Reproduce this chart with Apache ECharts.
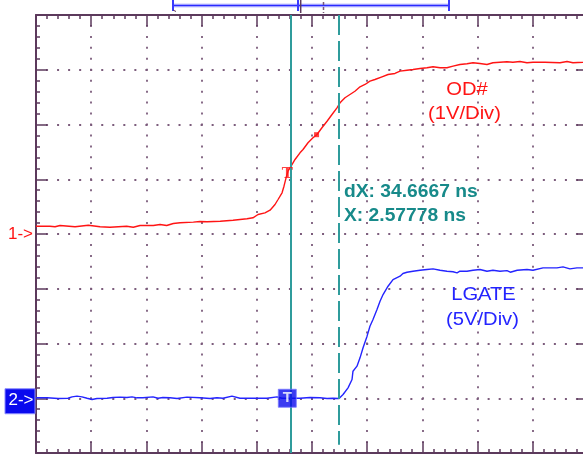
<!DOCTYPE html>
<html><head><meta charset="utf-8">
<script src="https://cdn.jsdelivr.net/npm/echarts@6/dist/echarts.min.js"></script>
<style>html,body{margin:0;padding:0;background:#fff;}#c{width:583px;height:456px;}</style>
</head><body><div id="c"></div>
<script>
// ---- time base (ns) ----
const timeMin = -182.1;
const timePerDiv = 40;
const timeDivs = 10;
const vertDivs = 8;

// ---- channel 1: OD# (1 V/div) ----
const ch1Time = [-182.1,-172.0,-168.3,-164.7,-153.8,-144.2,-135.7,-128.5,-116.4,-111.6,-106.7,-97.1,-92.2,-87.4,-82.6,-77.7,-68.1,-63.3,-58.0,-48.6,-39.3,-29.2,-24.9,-21.2,-16.2,-12.5,-8.9,-6.7,-3.8,-2.4,-0.9,0.5,3.4,5.6,9.2,11.4,15.0,18.6,21.5,25.1,28.8,32.4,36.0,38.2,41.8,45.4,49.0,52.7,56.3,59.9,63.5,68.6,73.0,78.0,81.7,86.7,91.1,96.2,101.2,105.6,110.7,115.7,120.1,125.1,130.2,134.6,139.6,144.7,149.0,154.1,159.2,163.5,168.6,173.7,178.0,186.7,197.6,202.7,207.0,214.3,217.9];
const ch1Volts = [0.142,0.142,0.132,0.155,0.132,0.161,0.132,0.124,0.142,0.124,0.155,0.155,0.174,0.155,0.192,0.205,0.216,0.228,0.223,0.234,0.252,0.278,0.296,0.356,0.387,0.435,0.539,0.630,0.753,0.873,1.026,1.147,1.269,1.361,1.483,1.543,1.666,1.757,1.817,1.940,2.060,2.183,2.305,2.396,2.488,2.548,2.608,2.689,2.731,2.791,2.822,2.871,2.913,2.932,2.974,2.992,3.005,3.023,3.036,3.054,3.036,3.036,3.065,3.096,3.109,3.127,3.114,3.096,3.127,3.138,3.145,3.138,3.151,3.127,3.138,3.138,3.127,3.151,3.127,3.138,3.145];
const ch1VoltsPerDiv = 1;
const ch1OffsetDiv = 0;

// ---- channel 2: LGATE (5 V/div) ----
const ch2Time = [-182.1,-174.1,-166.1,-158.9,-156.0,-152.4,-148.8,-145.1,-141.5,-137.9,-130.6,-126.3,-121.2,-116.2,-112.5,-108.9,-104.6,-97.3,-93.7,-90.1,-85.0,-79.9,-72.7,-63.3,-56.0,-51.0,-46.6,-40.1,-34.3,-27.0,-14.7,-7.5,-3.8,9.2,16.4,23.7,28.8,33.1,37.5,40.4,44.0,46.9,47.6,50.5,52.7,54.9,57.8,59.9,62.1,65.0,67.2,69.4,73.0,76.6,81.7,83.8,86.7,91.1,96.2,101.2,105.6,110.7,115.7,120.1,123.0,125.1,130.2,134.6,139.6,144.7,149.0,154.1,159.2,161.6,166.6,173.7,178.0,185.3,190.4,195.4,199.8,204.8,209.9,214.3,217.9];
const ch2Volts = [0.04,0.04,-0.02,0.00,0.13,0.19,0.13,0.00,-0.11,-0.02,0.00,0.07,0.10,0.07,0.13,0.04,0.04,0.13,0.00,0.07,0.04,-0.02,0.10,0.04,-0.02,0.04,0.00,0.19,0.00,0.00,0.00,0.13,0.00,0.00,0.07,0.04,-0.02,0.00,-0.02,0.34,0.95,1.71,2.47,2.93,3.69,4.61,5.67,6.58,7.19,8.11,8.86,9.47,10.23,10.84,11.15,11.39,11.51,11.60,11.69,11.76,11.82,11.69,11.60,11.55,11.45,11.60,11.60,11.69,11.76,11.60,11.69,11.60,11.66,11.51,11.69,11.76,11.69,11.91,11.91,11.91,12.00,11.82,11.91,11.91,11.93];
const ch2VoltsPerDiv = 5;
const ch2OffsetDiv = -3;

// ---- cursors / markers ----
const cursorX = 2.57778;
const cursorDX = 34.6667;
const trigTime = 0;
const ch1TrigMarkVolts = 1.10;
const ch1MarkerTime = [21.2];
const ch1MarkerVolts = [1.814];

// ---- texts ----
const ch1Label = ['OD#', '(1V/Div)'];
const ch2Label = ['LGATE', '(5V/Div)'];
const cursorText = ['dX: ' + cursorDX + ' ns', 'X: ' + cursorX + ' ns'];
const ch1Arrow = '1->';
const ch2Arrow = '2->';

const AX = '#5c3a5c', DOT = '#7c5c7c', TEAL = '#2f9c9c', TEALT = '#178a8a';
const RED = '#ff1414', BLUE = '#2424ff';

const toDiv1 = v => v / ch1VoltsPerDiv + ch1OffsetDiv;
const toDiv2 = v => v / ch2VoltsPerDiv + ch2OffsetDiv;

function xAx(pos, split) {
  return {
    type: 'value', position: pos, min: timeMin, max: timeMin + timePerDiv * timeDivs, interval: timePerDiv,
    axisLine: {show: true, onZero: false, lineStyle: {color: AX, width: 2}},
    axisTick: {show: true, inside: true, length: 11, lineStyle: {color: AX, width: 1.5}},
    minorTick: {show: true, splitNumber: 5, length: 4, lineStyle: {color: AX, width: 1.5}},
    axisLabel: {show: false},
    splitLine: {show: split, lineStyle: {color: DOT, width: 1.8, type: [2, 8.95], dashOffset: 1}},
    minorSplitLine: {show: false}
  };
}
function yAx(pos, split) {
  return {
    type: 'value', position: pos, min: -vertDivs / 2, max: vertDivs / 2, interval: 1,
    axisLine: {show: true, onZero: false, lineStyle: {color: AX, width: 2}},
    axisTick: {show: true, inside: true, length: 11, lineStyle: {color: AX, width: 1.5}},
    minorTick: {show: true, splitNumber: 5, length: 4, lineStyle: {color: AX, width: 1.5}},
    axisLabel: {show: false},
    splitLine: {show: split, lineStyle: {color: DOT, width: 1.8, type: [2, 9.04], dashOffset: 1}},
    minorSplitLine: {show: false}
  };
}

const chart = echarts.init(document.getElementById('c'), null, {renderer: 'canvas'});
chart.setOption({
  animation: false,
  backgroundColor: '#ffffff',
  grid: {left: 36, top: 15, width: 552, height: 438, show: false, containLabel: false, outerBoundsMode: 'none'},
  xAxis: [xAx('bottom', true), xAx('top', false)],
  yAxis: [yAx('left', true), yAx('right', false)],
  series: [
    {
      type: 'line', name: ch1Label[0], xAxisIndex: 0, yAxisIndex: 0,
      data: ch1Time.map((t, i) => [t, toDiv1(ch1Volts[i])]),
      symbol: 'none', showSymbol: false, z: 4,
      lineStyle: {color: RED, width: 1.4}, itemStyle: {color: RED},
      markLine: {
        silent: true, symbol: 'none', label: {show: false}, animation: false,
        data: [
          [{coord: [cursorX, 4], lineStyle: {color: TEAL, width: 2, type: 'solid'}}, {coord: [cursorX, -4]}],
          [{coord: [cursorX + cursorDX, 4], lineStyle: {color: TEAL, width: 2, type: [20, 6]}}, {coord: [cursorX + cursorDX, -3.85]}]
        ]
      }
    },
    {
      type: 'line', name: ch2Label[0], xAxisIndex: 0, yAxisIndex: 0,
      data: ch2Time.map((t, i) => [t, toDiv2(ch2Volts[i])]),
      symbol: 'none', showSymbol: false, z: 4,
      lineStyle: {color: BLUE, width: 1.4}, itemStyle: {color: BLUE}
    },
    {
      type: 'scatter', xAxisIndex: 0, yAxisIndex: 0, z: 5,
      data: ch1MarkerTime.map((t, i) => [t, toDiv1(ch1MarkerVolts[i])]),
      symbol: 'rect', symbolSize: 5, itemStyle: {color: RED}
    },
    {
      type: 'scatter', xAxisIndex: 0, yAxisIndex: 0, z: 5,
      data: [[trigTime, toDiv1(ch1TrigMarkVolts)]],
      symbol: 'rect', symbolSize: 1, itemStyle: {color: 'rgba(0,0,0,0)'},
      label: {show: true, position: 'inside', formatter: 'T', color: RED, fontFamily: 'DejaVu Serif', fontWeight: 'bold', fontSize: 15}
    },
    {
      type: 'scatter', xAxisIndex: 0, yAxisIndex: 0, z: 6,
      data: [[trigTime, toDiv2(0)]],
      symbol: 'rect', symbolSize: 18, itemStyle: {color: '#0a0aee', borderColor: '#7a7aff', borderWidth: 1},
      label: {show: true, position: 'inside', formatter: 'T', color: '#ffffff', fontFamily: 'Liberation Sans', fontWeight: 'bold', fontSize: 15}
    }
  ]
});

const g1 = chart.convertToPixel({yAxisIndex: 0}, toDiv1(0));
const g2 = chart.convertToPixel({yAxisIndex: 0}, toDiv2(0));

function txt(x, y, s, fill, font, align, sx) {
  return {type: 'text', x: x, y: y, scaleX: sx || 1, z: 20,
    style: {text: s, fill: fill, font: font, align: align, textAlign: align, verticalAlign: 'middle', textVerticalAlign: 'middle'}};
}
function ln(x1, y1, x2, y2, c, w, dash) {
  return {type: 'line', z: 20, shape: {x1: x1, y1: y1, x2: x2, y2: y2}, style: {stroke: c, lineWidth: w, lineDash: dash || null}};
}

chart.setOption({
  graphic: [
    txt(467, 89.5, ch1Label[0], RED, '18.5px "Liberation Sans"', 'center', 1.09),
    txt(464.5, 113.5, ch1Label[1], RED, '18.5px "Liberation Sans"', 'center', 1.09),
    txt(483.5, 294.5, ch2Label[0], BLUE, '18.5px "Liberation Sans"', 'center', 1.09),
    txt(482.5, 320, ch2Label[1], BLUE, '18.5px "Liberation Sans"', 'center', 1.09),
    txt(344, 192.5, cursorText[0], TEALT, 'bold 17.5px "Liberation Sans"', 'left', 1.1),
    txt(344, 216, cursorText[1], TEALT, 'bold 17.5px "Liberation Sans"', 'left', 1.1),
    txt(8, g1 + 0.8, ch1Arrow, RED, '17px "Liberation Sans"', 'left', 1),
    {type: 'rect', z: 20, shape: {x: 5, y: g2 - 9.5, width: 30, height: 25}, style: {fill: '#0a0aee', stroke: '#8a8aff', lineWidth: 1}},
    txt(8.5, g2 + 1.8, ch2Arrow, '#ffffff', '17px "Liberation Sans"', 'left', 1),
    // record overview bar
    ln(173, 5.5, 449, 5.5, '#c8c8ff', 4),
    ln(173, 5.5, 449, 5.5, '#2a2aff', 1.6),
    ln(173, 0, 173, 11, '#3a3aff', 2),
    ln(173, 10, 176, 11.5, AX, 1),
    ln(449, 0, 449, 11, '#3a3aff', 2),
    ln(298, 0, 298, 11, '#3a3aff', 2),
    ln(300.7, 0, 300.7, 13, AX, 1.5),
    ln(323.5, 2, 323.5, 13, '#7a5a7a', 1.5, [3, 2])
  ]
});
</script>
</body></html>
